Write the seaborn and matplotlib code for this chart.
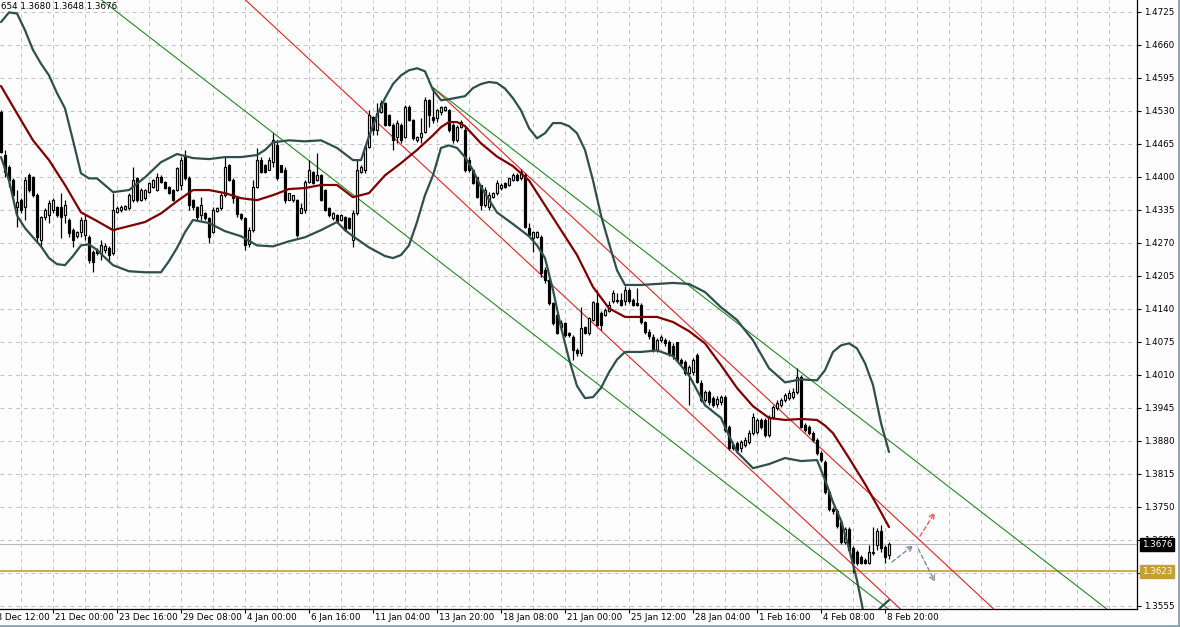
import numpy as np
import pandas as pd
import matplotlib
matplotlib.use("Agg")
import matplotlib.pyplot as plt
import seaborn as sns
from matplotlib.lines import Line2D
from matplotlib.transforms import blended_transform_factory

sns.set_theme(style="white")
plt.rcParams['font.family'] = ['DejaVu Sans']

# ---- H4 candles, values in 1/10000 above 1.0000 (e.g. 4527 -> 1.4527) ----
opens = [
    4527, 4443, 4419, 4393, 4340, 4354, 4340, 4403, 4399, 4364,
    4275, 4321, 4324, 4334, 4340, 4340, 4324, 4315, 4295, 4283,
    4291, 4285, 4281, 4252, 4256, 4250, 4256, 4260, 4250, 4330,
    4334, 4336, 4338, 4354, 4397, 4354, 4358, 4370, 4380, 4374,
    4399, 4389, 4380, 4374, 4374, 4384, 4441, 4397, 4354, 4340,
    4324, 4328, 4319, 4291, 4332, 4338, 4364, 4423, 4393, 4358,
    4326, 4319, 4267, 4295, 4380, 4433, 4423, 4413, 4429, 4462,
    4423, 4413, 4354, 4354, 4354, 4328, 4334, 4389, 4409, 4393,
    4403, 4374, 4338, 4319, 4324, 4315, 4321, 4319, 4275, 4328,
    4409, 4413, 4459, 4518, 4492, 4528, 4545, 4522, 4502, 4478,
    4502, 4478, 4537, 4512, 4472, 4478, 4488, 4551, 4518, 4516,
    4528, 4531, 4531, 4502, 4472, 4498, 4492, 4433, 4413, 4399,
    4384, 4344, 4340, 4360, 4368, 4378, 4387, 4384, 4393, 4403,
    4397, 4403, 4299, 4279, 4281, 4281, 4216, 4196, 4151, 4127,
    4104, 4112, 4092, 4084, 4058, 4052, 4104, 4092, 4118, 4151,
    4131, 4127, 4135, 4155, 4157, 4157, 4155, 4177, 4157, 4151,
    4147, 4114, 4094, 4084, 4058, 4078, 4078, 4074, 4067, 4074,
    4039, 4035, 4013, 4015, 4049, 3994, 3960, 3976, 3964, 3952,
    3956, 3966, 3907, 3872, 3876, 3866, 3872, 3878, 3895, 3897,
    3921, 3921, 3891, 3927, 3944, 3950, 3960, 3964, 3966, 3976,
    4005, 3911, 3907, 3895, 3881, 3856, 3838, 3779, 3745, 3741,
    3720, 3680, 3706, 3669, 3661, 3651, 3645, 3639, 3659, 3674,
    3702, 3671, 3654]
highs = [
    4531, 4453, 4423, 4397, 4374, 4358, 4399, 4407, 4401, 4368,
    4322, 4338, 4354, 4358, 4342, 4368, 4354, 4319, 4299, 4293,
    4321, 4324, 4285, 4256, 4260, 4275, 4269, 4263, 4368, 4342,
    4344, 4344, 4368, 4419, 4399, 4378, 4376, 4389, 4395, 4407,
    4403, 4391, 4382, 4376, 4419, 4439, 4453, 4401, 4356, 4342,
    4360, 4330, 4321, 4340, 4340, 4368, 4439, 4425, 4397, 4360,
    4328, 4321, 4301, 4393, 4457, 4439, 4425, 4439, 4486, 4472,
    4423, 4419, 4368, 4364, 4356, 4348, 4393, 4433, 4411, 4447,
    4405, 4376, 4340, 4330, 4326, 4326, 4322, 4321, 4334, 4433,
    4423, 4463, 4531, 4520, 4545, 4551, 4547, 4524, 4506, 4512,
    4506, 4541, 4541, 4514, 4480, 4516, 4557, 4553, 4576, 4533,
    4539, 4539, 4533, 4506, 4502, 4512, 4498, 4439, 4413, 4399,
    4384, 4380, 4370, 4370, 4393, 4387, 4389, 4397, 4407, 4407,
    4415, 4407, 4309, 4293, 4293, 4285, 4222, 4200, 4153, 4131,
    4118, 4114, 4094, 4088, 4062, 4143, 4106, 4123, 4155, 4177,
    4135, 4141, 4155, 4177, 4171, 4171, 4184, 4181, 4161, 4181,
    4151, 4116, 4100, 4090, 4082, 4088, 4082, 4078, 4072, 4074,
    4043, 4039, 4029, 4043, 4052, 4000, 3980, 3980, 3968, 3968,
    3970, 3970, 3911, 3876, 3880, 3882, 3888, 3901, 3935, 3925,
    3925, 3925, 3931, 3950, 3960, 3964, 3974, 3980, 3984, 4023,
    4009, 3915, 3911, 3899, 3885, 3860, 3842, 3783, 3749, 3745,
    3724, 3710, 3710, 3673, 3665, 3655, 3649, 3675, 3710, 3708,
    3714, 3675, 3680]
lows = [
    4447, 4399, 4380, 4354, 4301, 4328, 4315, 4370, 4360, 4269,
    4261, 4315, 4309, 4328, 4321, 4279, 4309, 4281, 4261, 4279,
    4281, 4275, 4230, 4212, 4246, 4236, 4250, 4232, 4246, 4328,
    4330, 4334, 4334, 4350, 4350, 4352, 4354, 4368, 4378, 4372,
    4387, 4376, 4366, 4352, 4372, 4374, 4393, 4334, 4334, 4315,
    4315, 4315, 4269, 4289, 4330, 4334, 4360, 4391, 4348, 4321,
    4315, 4256, 4261, 4291, 4378, 4407, 4407, 4413, 4419, 4393,
    4409, 4348, 4354, 4350, 4281, 4328, 4328, 4387, 4385, 4391,
    4352, 4332, 4321, 4315, 4309, 4313, 4293, 4297, 4261, 4324,
    4407, 4407, 4457, 4482, 4482, 4526, 4500, 4500, 4453, 4466,
    4466, 4476, 4510, 4472, 4468, 4466, 4486, 4498, 4506, 4508,
    4522, 4529, 4488, 4466, 4468, 4496, 4409, 4409, 4385, 4358,
    4334, 4340, 4334, 4358, 4364, 4374, 4378, 4382, 4391, 4391,
    4393, 4299, 4283, 4252, 4279, 4202, 4190, 4147, 4108, 4090,
    4098, 4084, 4084, 4039, 4048, 4048, 4090, 4088, 4116, 4106,
    4098, 4125, 4133, 4151, 4151, 4145, 4147, 4151, 4145, 4145,
    4110, 4090, 4080, 4054, 4054, 4074, 4067, 4048, 4042, 4035,
    4029, 4009, 3950, 4009, 3994, 3956, 3956, 3950, 3946, 3946,
    3950, 3897, 3862, 3862, 3856, 3858, 3868, 3874, 3891, 3893,
    3903, 3887, 3887, 3923, 3940, 3946, 3956, 3960, 3962, 3972,
    3905, 3897, 3891, 3878, 3852, 3838, 3775, 3741, 3735, 3708,
    3676, 3676, 3661, 3620, 3635, 3637, 3637, 3637, 3655, 3665,
    3661, 3639, 3648]
closes = [
    4449, 4409, 4393, 4364, 4350, 4334, 4393, 4374, 4364, 4281,
    4321, 4334, 4348, 4354, 4324, 4321, 4344, 4289, 4275, 4291,
    4315, 4315, 4236, 4232, 4250, 4265, 4263, 4246, 4334, 4338,
    4340, 4342, 4364, 4393, 4354, 4374, 4374, 4387, 4393, 4399,
    4389, 4378, 4368, 4354, 4417, 4433, 4397, 4344, 4340, 4321,
    4344, 4319, 4281, 4334, 4338, 4364, 4419, 4393, 4358, 4326,
    4319, 4265, 4295, 4380, 4433, 4409, 4409, 4433, 4472, 4397,
    4409, 4354, 4368, 4364, 4285, 4338, 4389, 4413, 4387, 4403,
    4354, 4334, 4324, 4328, 4311, 4324, 4295, 4299, 4328, 4413,
    4419, 4459, 4522, 4492, 4526, 4545, 4502, 4502, 4472, 4506,
    4472, 4537, 4512, 4476, 4478, 4486, 4551, 4522, 4512, 4531,
    4537, 4537, 4492, 4472, 4498, 4508, 4413, 4413, 4387, 4360,
    4344, 4374, 4364, 4368, 4387, 4384, 4380, 4397, 4403, 4393,
    4409, 4301, 4285, 4291, 4291, 4210, 4196, 4151, 4112, 4092,
    4112, 4088, 4088, 4058, 4052, 4102, 4092, 4121, 4153, 4108,
    4108, 4137, 4147, 4171, 4155, 4147, 4177, 4155, 4147, 4147,
    4114, 4094, 4086, 4058, 4078, 4084, 4072, 4052, 4048, 4039,
    4033, 4013, 4025, 4039, 3996, 3960, 3976, 3956, 3950, 3962,
    3966, 3901, 3866, 3866, 3862, 3878, 3882, 3895, 3927, 3921,
    3907, 3891, 3927, 3946, 3954, 3960, 3970, 3974, 3976, 4005,
    3907, 3901, 3895, 3881, 3856, 3842, 3779, 3745, 3741, 3712,
    3680, 3706, 3665, 3639, 3639, 3639, 3639, 3661, 3661, 3702,
    3669, 3651, 3676]

# ---- Bollinger bands (by bar index) ----
upper_idx = [0, 2, 4, 6, 8, 10, 12, 14, 16, 18, 20, 22, 24, 28, 32, 36, 40, 44, 48,
             52, 56, 60, 64, 66, 68, 72, 76, 80, 84, 88, 90, 92, 94, 96, 98, 100, 102,
             104, 106, 108, 110, 112, 114, 116, 118, 120, 122, 124, 126, 128, 130, 132,
             134, 136, 138, 140, 142, 144, 146, 148, 150, 152, 154, 156, 160, 164, 168,
             172, 176, 180, 184, 188, 192, 196, 200, 204, 206, 208, 210, 212, 214, 216,
             218, 220, 222]
upper_band = [4705, 4724, 4722, 4689, 4650, 4623, 4600, 4565, 4535, 4472, 4407, 4397,
              4397, 4370, 4374, 4399, 4429, 4445, 4437, 4435, 4439, 4439, 4443, 4453,
              4468, 4472, 4470, 4472, 4457, 4433, 4433, 4480, 4521, 4555, 4583,
              4600, 4610, 4614, 4608, 4571, 4551, 4553, 4556, 4559, 4575, 4583, 4587,
              4585, 4574, 4555, 4531, 4496, 4476, 4486, 4506, 4506, 4500, 4486, 4453,
              4393, 4324, 4269, 4216, 4187, 4187, 4189, 4191, 4189, 4173, 4143, 4118,
              4078, 4023, 3995, 4001, 3999, 4019, 4055, 4068, 4072, 4062, 4033, 3990,
              3915, 3858]
lower_idx = [0, 2, 4, 6, 8, 10, 12, 14, 16, 18, 20, 22, 24, 28, 32, 36, 40, 42, 44,
             46, 48, 52, 56, 60, 64, 68, 72, 76, 80, 84, 86, 88, 92, 96, 98, 100, 102,
             104, 106, 108, 110, 112, 114, 116, 118, 120, 124, 128, 132, 134, 136, 138,
             140, 142, 144, 146, 148, 150, 152, 154, 156, 160, 164, 168, 172, 176, 180,
             182, 184, 188, 192, 196, 200, 204, 206, 208, 210, 212, 214, 216, 218, 220,
             222]
lower_band = [4439, 4393, 4324, 4299, 4281, 4263, 4240, 4228, 4226, 4244, 4265, 4267,
              4256, 4226, 4214, 4212, 4212, 4234, 4260, 4291, 4315, 4309, 4293, 4283,
              4265, 4263, 4273, 4281, 4295, 4311, 4295, 4283, 4261, 4244, 4240, 4246,
              4265, 4311, 4364, 4403, 4457, 4462, 4457, 4439, 4413, 4380, 4330, 4307,
              4283, 4265, 4240, 4177, 4104, 4041, 3988, 3964, 3966, 3984, 4015, 4040,
              4055, 4055, 4058, 4047, 4009, 3950, 3925, 3890, 3858, 3826, 3834, 3846,
              3840, 3842, 3803, 3759, 3723, 3668, 3605, 3527, 3535, 3552, 3566]
# ---- moving average ----
ma_idx = [0, 4, 8, 12, 16, 20, 24, 28, 32, 36, 40, 44, 48, 52, 56, 60, 64, 68, 72,
          76, 80, 84, 88, 92, 96, 100, 104, 108, 110, 112, 114, 116, 120, 124, 128,
          132, 136, 140, 144, 148, 152, 156, 160, 164, 168, 172, 176, 180, 184, 188,
          192, 196, 200, 204, 206, 208, 212, 216, 220, 222]
moving_avg = [4579, 4525, 4472, 4433, 4384, 4330, 4313, 4295, 4303, 4311, 4328, 4352,
              4374, 4374, 4368, 4358, 4354, 4364, 4376, 4378, 4384, 4384, 4360, 4368,
              4403, 4427, 4453, 4482, 4498, 4508, 4508, 4500, 4466, 4440, 4421, 4393,
              4344, 4295, 4246, 4183, 4141, 4124, 4124, 4124, 4114, 4096, 4072, 4029,
              3984, 3948, 3925, 3921, 3923, 3921, 3910, 3895, 3846, 3795, 3739, 3710]

# ---- channels (anchored at the 13 Jan high), slope in price per bar ----
channel_anchor_bar = 108
channel_anchor_price = 1.4576
red_slope = -0.000733
red_offsets = [0.0, -0.0171]
green_slope = -0.00061
green_offsets = [0.0, -0.0333]

# ---- horizontal levels ----
bid_price = 1.3676
level_price = 1.3623

# ---- axis labels ----
price_ticks = [1.3555, 1.3620, 1.3685, 1.3750, 1.3815, 1.3880, 1.3945, 1.4010, 1.4075,
               1.4140, 1.4205, 1.4270, 1.4335, 1.4400, 1.4465, 1.4530, 1.4595, 1.4660,
               1.4725]
hidden_price_ticks = [1.3620]   # label covered by the level marker
time_tick_bars = [-3, 13, 29, 45, 61, 77, 93, 109, 125, 141, 157, 173, 189, 205, 221]
time_tick_labels = ["18 Dec 12:00", "21 Dec 00:00", "23 Dec 16:00", "29 Dec 08:00",
                    "4 Jan 00:00", "6 Jan 16:00", "11 Jan 04:00", "13 Jan 20:00",
                    "18 Jan 08:00", "21 Jan 00:00", "25 Jan 12:00", "28 Jan 04:00",
                    "1 Feb 16:00", "4 Feb 08:00", "8 Feb 20:00"]
header_text = "654 1.3680 1.3648 1.3676"

# ---- scenario arrows (bar, price) ----
arrow_gray1 = [(222.7, 1.3641), (228.1, 1.3674)]
arrow_red = [(229.75, 1.3692), (233.5, 1.3739)]
arrow_gray2 = [(229.3, 1.3667), (233.5, 1.3602)]

# =================================================================
W, H = 1180, 627
fig = plt.figure(figsize=(W / 100, H / 100), dpi=100)
bg = '#fdfdfd'
fig.patch.set_facecolor(bg)
ax = fig.add_axes([0, 18 / H, 1137 / W, 609 / H])
ax.set_facecolor(bg)

to_price = lambda v: 1.0 + np.asarray(v, dtype=float) / 10000.0
o, h, l, c = map(to_price, (opens, highs, lows, closes))
idx = np.arange(len(c))

ax.set_xlim(-0.25, 284.0)
ax.set_ylim(1.35485, 1.47485)

# grid
grid_col = '#c2c2c2'
for gx in np.arange(5, 284, 8):
    ax.axvline(gx, color=grid_col, lw=0.7, ls=(0, (4, 4)), zorder=0)
for gy in price_ticks:
    ax.axhline(gy, color=grid_col, lw=0.7, ls=(0, (4, 4)), zorder=0)

# horizontal levels
ax.axhline(bid_price, color='#b8b8b8', lw=0.8, zorder=1)
ax.axhline(level_price, color='#b8962e', lw=1.1, zorder=1)

# channels
for slope, offsets, col in ((red_slope, red_offsets, '#e02424'),
                            (green_slope, green_offsets, '#248a24')):
    for off in offsets:
        xx = np.array([channel_anchor_bar, 300]) if off == 0.0 else np.array([-40, 300])
        yy = channel_anchor_price + off + slope * (xx - channel_anchor_bar)
        ax.plot(xx, yy, color=col, lw=0.8, zorder=2)

# candles
ax.vlines(idx, l, h, color='black', lw=0.9, zorder=3)
up = c >= o
body_bot = np.minimum(o, c)
body_h = np.maximum(np.abs(c - o), 0.00008)
ax.bar(idx[up], body_h[up], bottom=body_bot[up], width=0.6, facecolor='white',
       edgecolor='black', linewidth=0.85, zorder=4)
ax.bar(idx[~up], body_h[~up], bottom=body_bot[~up], width=0.6, facecolor='black',
       edgecolor='black', linewidth=0.85, zorder=4)

# indicators with seaborn
up_df = pd.DataFrame({'bar': upper_idx, 'price': to_price(upper_band)})
lo_df = pd.DataFrame({'bar': lower_idx, 'price': to_price(lower_band)})
ma_df = pd.DataFrame({'bar': ma_idx, 'price': to_price(moving_avg)})
for df, col in ((up_df, '#2f4f4f'), (lo_df, '#2f4f4f'), (ma_df, '#800000')):
    sns.lineplot(data=df, x='bar', y='price', ax=ax, color=col, lw=1.6,
                 estimator=None, sort=False, zorder=5,
                 solid_joinstyle='round', solid_capstyle='round')

# arrows
for (p0, p1), col in ((arrow_gray1, '#7b8d9e'), (arrow_red, '#f25a5a'), (arrow_gray2, '#7b8d9e')):
    ax.annotate('', xy=p1, xytext=p0,
                arrowprops=dict(arrowstyle='->', color=col, lw=1.0,
                                linestyle=(0, (3, 2)), mutation_scale=9,
                                shrinkA=0, shrinkB=0), zorder=6)

# axes styling
ax.set_xlabel('')
ax.set_ylabel('')
for s in ('left', 'top'):
    ax.spines[s].set_visible(False)
for s in ('right', 'bottom'):
    ax.spines[s].set_visible(True)
    ax.spines[s].set_color('black')
    ax.spines[s].set_linewidth(0.9)
ax.yaxis.tick_right()
ax.set_yticks(price_ticks)
ax.set_yticklabels(['' if p in hidden_price_ticks else f"{p:.4f}" for p in price_ticks])
ax.tick_params(axis='y', which='both', right=True, left=False, direction='out',
               length=3, width=0.8, pad=2, labelsize=6.3, colors='black')
ax.set_xticks([t for t in time_tick_bars if t >= 0])
ax.set_xticklabels([])
ax.tick_params(axis='x', which='both', bottom=True, direction='out', length=3,
               width=0.8, colors='black')

tx = blended_transform_factory(ax.transData, ax.transAxes)
for t, lab in zip(time_tick_bars, time_tick_labels):
    ax.text(t + 0.4, -0.0135, lab, transform=tx, ha='left', va='center',
            fontsize=6.3, color='black', clip_on=False)

ty = blended_transform_factory(ax.transAxes, ax.transData)
ax.text(1.004, bid_price, f"{bid_price:.4f}", transform=ty, ha='left', va='center',
        fontsize=6.3, color='white', zorder=20, clip_on=False,
        bbox=dict(boxstyle='square,pad=0.22', fc='black', ec='black'))
ax.text(1.004, level_price, f"{level_price:.4f}", transform=ty, ha='left', va='center',
        fontsize=6.3, color='#fffbe6', zorder=20, clip_on=False,
        bbox=dict(boxstyle='square,pad=0.22', fc='#c6a030', ec='#c6a030'))

fig.text(1 / W, 1 - 2 / H, header_text, ha='left', va='top', fontsize=6.3, color='black')

# window frame
fig.add_artist(Line2D([0, 1], [1.5 / H, 1.5 / H], transform=fig.transFigure,
                      color='#8da0b2', lw=2))
fig.add_artist(Line2D([1 - 1.5 / W, 1 - 1.5 / W], [0, 1], transform=fig.transFigure,
                      color='#8da0b2', lw=2))

fig.savefig('out.png', dpi=100, facecolor=bg)
